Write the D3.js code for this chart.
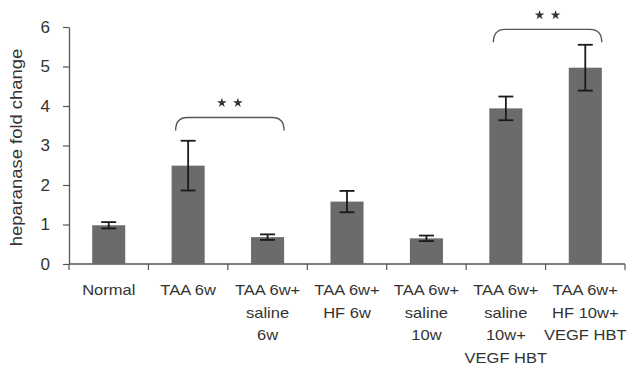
<!DOCTYPE html>
<html>
<head>
<meta charset="utf-8">
<script src="https://cdn.jsdelivr.net/npm/d3@7"></script>
<style>
  body { margin: 0; background: #fff; font-family: "Liberation Sans", Arial, sans-serif; }
</style>
</head>
<body>
<div id="container"><svg></svg></div>
<script>
// data
let categories = ['Normal', 'TAA 6w', 'TAA 6w+ saline 6w', 'TAA 6w+ HF 6w', 'TAA 6w+ saline 10w',
                  'TAA 6w+ saline 10w+ VEGF HBT', 'TAA 6w+ HF 10w+ VEGF HBT'];
let label_lines = [
    ['Normal'],
    ['TAA 6w'],
    ['TAA 6w+', 'saline', '6w'],
    ['TAA 6w+', 'HF 6w'],
    ['TAA 6w+', 'saline', '10w'],
    ['TAA 6w+', 'saline', '10w+', 'VEGF HBT'],
    ['TAA 6w+', 'HF 10w+', 'VEGF HBT']
];
let values = [0.98, 2.49, 0.68, 1.58, 0.65, 3.94, 4.97];
let errors = [0.08, 0.63, 0.07, 0.27, 0.07, 0.30, 0.58];
let y_ticks = [0, 1, 2, 3, 4, 5, 6];
// significance brackets: [from bar, to bar, bracket level, star level]
let brackets = [[1, 2, 3.71, 4.08], [5, 6, 5.94, 6.3]];

let width = 630, height = 369;
let padding = {left: 69, right: 5, top: 27, bottom: 105};
let font = '"Liberation Sans", Arial, sans-serif';

function draw_main() {
    let svg = d3.select('#container').select('svg')
        .attr('width', width)
        .attr('height', height);

    let x = d3.scaleBand()
        .domain(categories)
        .range([padding.left, width - padding.right])
        .paddingInner(0.584)
        .paddingOuter(0.292);

    let y = d3.scaleLinear()
        .domain([0, 6])
        .range([height - padding.bottom, padding.top]);

    // y axis
    let gy = svg.append('g')
        .attr('transform', `translate(${padding.left},0)`)
        .call(d3.axisLeft(y).tickValues(y_ticks).tickSize(6).tickSizeOuter(0).tickFormat(d => d));
    gy.select('.domain').attr('stroke', '#555').attr('stroke-width', 1.3);
    gy.selectAll('.tick line').attr('stroke', '#555').attr('stroke-width', 1.2);
    gy.selectAll('.tick text')
        .attr('font-size', '17px')
        .attr('font-family', font)
        .attr('fill', '#333')
        .attr('x', -19);

    svg.append('text')
        .attr('transform', `translate(18, ${(y(0) + y(6)) / 2 + 2}) rotate(-90) scale(1.15,1)`)
        .attr('text-anchor', 'middle')
        .attr('dominant-baseline', 'middle')
        .attr('font-size', '16px')
        .attr('fill', '#333')
        .text('heparanase fold change');

    // x axis with ticks between categories
    let step = x.step();
    let x_edges = d3.range(categories.length + 1).map(i => padding.left + i * step);
    svg.append('line')
        .attr('x1', padding.left).attr('x2', x_edges[x_edges.length - 1])
        .attr('y1', y(0)).attr('y2', y(0))
        .attr('stroke', '#555').attr('stroke-width', 1.3);
    svg.append('g').selectAll('line')
        .data(x_edges)
        .enter().append('line')
        .attr('x1', d => d).attr('x2', d => d)
        .attr('y1', y(0)).attr('y2', y(0) + 6)
        .attr('stroke', '#555').attr('stroke-width', 1.2);

    // bars
    svg.append('g').selectAll('rect')
        .data(values)
        .enter().append('rect')
        .attr('x', (d, i) => x(categories[i]))
        .attr('y', d => y(d))
        .attr('width', x.bandwidth())
        .attr('height', d => y(0) - y(d))
        .attr('fill', '#6b6b6b');

    // error bars
    let eg = svg.append('g').attr('stroke', '#1a1a1a').attr('stroke-width', 1.8);
    values.forEach((v, i) => {
        let cx = x(categories[i]) + x.bandwidth() / 2;
        let hw = 7.5;
        eg.append('line').attr('x1', cx).attr('x2', cx).attr('y1', y(v - errors[i])).attr('y2', y(v + errors[i]));
        eg.append('line').attr('x1', cx - hw).attr('x2', cx + hw).attr('y1', y(v + errors[i])).attr('y2', y(v + errors[i]));
        eg.append('line').attr('x1', cx - hw).attr('x2', cx + hw).attr('y1', y(v - errors[i])).attr('y2', y(v - errors[i]));
    });

    // category labels
    let lg = svg.append('g')
        .attr('font-size', '14px')
        .attr('fill', '#333')
        .attr('text-anchor', 'middle');
    label_lines.forEach((lines, i) => {
        let cx = x(categories[i]) + x.bandwidth() / 2;
        let t = lg.append('text')
            .attr('transform', `translate(${cx}, ${y(0) + 31}) scale(1.18,1)`);
        lines.forEach((s, j) => {
            t.append('tspan')
                .attr('x', 0)
                .attr('dy', j === 0 ? 0 : 22.7)
                .text(s);
        });
    });

    // significance brackets
    let star = d3.symbol().type(d3.symbolStar).size(28);
    brackets.forEach(b => {
        let x1 = x(categories[b[0]]) + 4;
        let x2 = x(categories[b[1]]) + x.bandwidth();
        let yt = y(b[2]);
        let path = `M${x1},${yt + 13} Q${x1},${yt} ${x1 + 12},${yt} L${x2 - 12},${yt} Q${x2},${yt} ${x2},${yt + 13}`;
        svg.append('path')
            .attr('d', path)
            .attr('fill', 'none')
            .attr('stroke', '#555')
            .attr('stroke-width', 1.4);
        let mid = (x1 + x2) / 2;
        [-8, 8].forEach(dx => {
            svg.append('path')
                .attr('d', star())
                .attr('transform', `translate(${mid + dx}, ${y(b[3])})`)
                .attr('fill', '#333');
        });
    });
}

draw_main();
</script>
</body>
</html>
